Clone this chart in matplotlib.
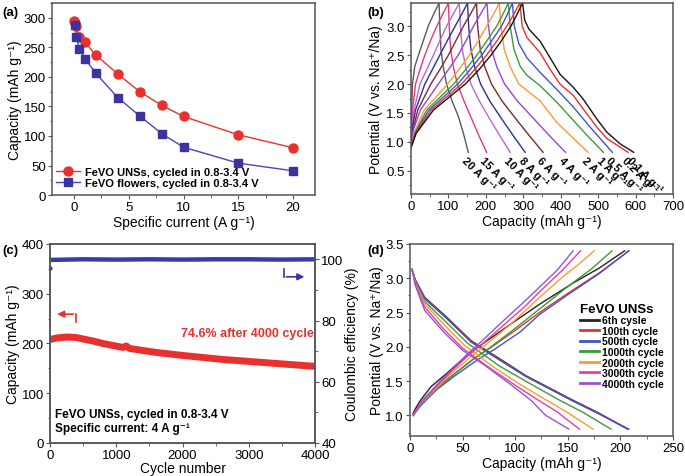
import matplotlib
matplotlib.use("Agg")
import matplotlib.pyplot as plt
from matplotlib.ticker import MultipleLocator

plt.rcParams['font.family'] = ['Liberation Sans', 'DejaVu Sans']
plt.rcParams['font.size'] = 9

# ── (a) rate capability ───────────────────────────────────────────────
rate_unss = [0.05, 0.1, 0.2, 0.5, 1, 2, 4, 6, 8, 10, 15, 20]
cap_unss = [294, 291, 287, 268, 259, 237, 205, 175, 152, 133, 102, 80]
rate_flow = [0.1, 0.2, 0.5, 1, 2, 4, 6, 8, 10, 15, 20]
cap_flow = [288, 268, 248, 231, 206, 165, 134, 104, 81, 54, 41]

# ── (b) charge / discharge profiles at different rates ───────────────
b_labels = ["20", "15", "10", "8", "6", "4", "2", "1", "0.5", "0.2", "0.1"]
b_colors = ["#5a5a5a", "#e8338a", "#bb66d6", "#2c3190", "#7a2b2b", "#9446d6",
            "#ff9a30", "#3a9c3a", "#3f55c8", "#e8312f", "#151515"]
b_chg_x = [
    [0, 1, 2, 4, 10, 20, 33, 46, 60, 75],
    [0, 2, 5, 12, 24, 37, 52, 69, 84, 100],
    [0, 3, 8, 24, 42, 60, 77, 95, 112, 129],
    [0, 4, 12, 37, 57, 77, 97, 118, 135, 151],
    [0, 5, 18, 53, 77, 100, 120, 140, 158, 175],
    [0, 6, 25, 73, 100, 126, 147, 167, 185, 203],
    [0, 8, 35, 98, 128, 156, 180, 202, 220, 236],
    [0, 10, 42, 114, 146, 176, 203, 229, 245, 260],
    [0, 11, 48, 125, 158, 189, 216, 242, 257, 271],
    [0, 12, 54, 135, 170, 202, 230, 256, 274, 291],
    [0, 14, 60, 145, 182, 214, 242, 267, 283, 298],
]
b_chg_v = [
    [0.95, 1.3, 1.6, 2.0, 2.3, 2.5, 2.75, 3.0, 3.2, 3.4],
    [0.95, 1.3, 1.6, 2.0, 2.25, 2.5, 2.75, 3.0, 3.2, 3.4],
    [0.95, 1.25, 1.55, 2.0, 2.25, 2.5, 2.75, 3.0, 3.2, 3.4],
    [0.94, 1.25, 1.55, 2.0, 2.25, 2.5, 2.75, 3.0, 3.2, 3.4],
    [0.94, 1.2, 1.55, 2.0, 2.25, 2.5, 2.75, 3.0, 3.2, 3.4],
    [0.93, 1.2, 1.55, 2.0, 2.25, 2.5, 2.75, 3.0, 3.2, 3.4],
    [0.92, 1.15, 1.55, 2.0, 2.25, 2.5, 2.75, 3.0, 3.2, 3.4],
    [0.92, 1.15, 1.55, 2.0, 2.25, 2.5, 2.75, 3.0, 3.2, 3.4],
    [0.91, 1.15, 1.55, 2.0, 2.25, 2.5, 2.75, 3.0, 3.2, 3.4],
    [0.90, 1.15, 1.55, 2.0, 2.25, 2.5, 2.75, 3.0, 3.2, 3.4],
    [0.90, 1.15, 1.55, 2.0, 2.25, 2.5, 2.75, 3.0, 3.2, 3.4],
]
b_dis_x = [
    [75, 77, 80, 86, 95, 110, 126, 140, 153],
    [100, 102, 106, 113, 124, 142, 162, 182, 202],
    [129, 132, 137, 146, 160, 183, 210, 238, 265],
    [151, 154, 160, 170, 186, 211, 242, 274, 305],
    [175, 178, 185, 197, 215, 244, 280, 317, 353],
    [203, 207, 215, 229, 250, 285, 328, 371, 413],
    [236, 240, 249, 265, 288, 345, 389, 434, 473],
    [260, 265, 275, 292, 310, 345, 389, 434, 478, 514],
    [271, 276, 288, 310, 345, 389, 434, 478, 538],
    [291, 297, 310, 345, 372, 398, 434, 460, 496, 523, 580],
    [298, 304, 315, 345, 371, 398, 434, 460, 496, 523, 558, 595],
]
b_dis_v = [
    [3.4, 3.0, 2.6, 2.3, 2.0, 1.7, 1.45, 1.15, 0.82],
    [3.4, 3.0, 2.6, 2.3, 2.0, 1.7, 1.4, 1.1, 0.82],
    [3.4, 3.0, 2.6, 2.3, 2.0, 1.7, 1.4, 1.1, 0.82],
    [3.4, 3.0, 2.6, 2.3, 2.0, 1.7, 1.4, 1.1, 0.82],
    [3.4, 3.0, 2.6, 2.3, 2.0, 1.7, 1.4, 1.1, 0.82],
    [3.4, 3.0, 2.6, 2.3, 2.0, 1.7, 1.4, 1.1, 0.82],
    [3.4, 3.0, 2.6, 2.3, 2.0, 1.71, 1.34, 1.06, 0.82],
    [3.4, 3.0, 2.6, 2.3, 2.15, 1.97, 1.69, 1.37, 1.06, 0.82],
    [3.4, 3.0, 2.7, 2.45, 2.2, 1.91, 1.60, 1.26, 0.82],
    [3.4, 3.0, 2.8, 2.54, 2.25, 2.0, 1.80, 1.57, 1.26, 1.06, 0.82],
    [3.4, 3.1, 2.95, 2.74, 2.46, 2.17, 1.94, 1.74, 1.40, 1.17, 0.97, 0.82],
]

# ── (c) long-term cycling ─────────────────────────────────────────────
cyc = [1, 100, 250, 400, 500, 650, 800, 950, 1100, 1150, 1200, 1400, 1600,
       1800, 2000, 2300, 2600, 2900, 3200, 3500, 3800, 4000]
cyc_cap = [208, 211, 213, 212, 209, 205, 200, 196, 192, 195, 190, 186, 182,
           179, 176, 172, 168, 165, 162, 159, 156, 154]
ce_cyc = [10, 500, 1000, 1500, 2000, 2500, 3000, 3500, 4000]
ce_val = [99.8, 100, 99.9, 100, 99.9, 100, 100, 99.9, 100]
ce_first_cyc = [1]
ce_first = [97]

# ── (d) profiles at selected cycles ──────────────────────────────────
d_labels = ["6th cysle", "100th cycle", "500th cycle", "1000th cycle",
            "2000th cycle", "3000th cycle", "4000th cycle"]
d_colors = ["#222222", "#e8312f", "#3f55c8", "#3a9c3a", "#ff9a30", "#e8409a", "#9a50d8"]
d_chg_x = [
    [3, 6, 10, 20, 34, 50, 65, 90, 123, 155, 180, 204],
    [3, 7, 12, 25, 40, 60, 75, 100, 123, 150, 180, 208],
    [3, 7, 12, 25, 42, 65, 80, 105, 123, 150, 180, 208],
    [3, 7, 12, 25, 42, 62, 77, 100, 123, 150, 172, 192],
    [3, 7, 12, 25, 40, 58, 72, 95, 123, 145, 160, 175],
    [3, 7, 12, 25, 40, 55, 70, 90, 110, 123, 145, 162],
    [3, 7, 12, 25, 40, 55, 68, 88, 108, 123, 140, 155],
]
d_chg_v = [
    [1.03, 1.12, 1.22, 1.42, 1.60, 1.82, 2.00, 2.27, 2.62, 2.93, 3.15, 3.4],
    [1.02, 1.10, 1.20, 1.40, 1.58, 1.82, 1.97, 2.24, 2.50, 2.78, 3.08, 3.4],
    [1.00, 1.08, 1.17, 1.37, 1.57, 1.82, 1.96, 2.22, 2.47, 2.76, 3.07, 3.4],
    [1.00, 1.08, 1.18, 1.38, 1.60, 1.84, 2.00, 2.27, 2.55, 2.88, 3.13, 3.4],
    [1.00, 1.09, 1.20, 1.40, 1.62, 1.86, 2.03, 2.32, 2.72, 3.02, 3.20, 3.4],
    [1.00, 1.10, 1.21, 1.42, 1.65, 1.87, 2.06, 2.33, 2.60, 2.80, 3.12, 3.4],
    [1.00, 1.10, 1.22, 1.44, 1.67, 1.90, 2.08, 2.37, 2.65, 2.87, 3.12, 3.4],
]
d_dis_x = [
    [2, 5, 14, 33, 58, 90, 110, 155, 180, 207],
    [2, 5, 14, 33, 58, 90, 110, 155, 180, 208],
    [2, 5, 14, 33, 58, 90, 110, 155, 180, 207],
    [2, 5, 14, 33, 55, 85, 110, 140, 165, 191],
    [2, 5, 14, 32, 52, 80, 105, 130, 150, 174],
    [2, 5, 14, 32, 50, 75, 100, 120, 140, 161],
    [2, 5, 14, 33, 50, 72, 95, 115, 129, 151],
]
d_dis_v = [
    [3.13, 2.98, 2.72, 2.46, 2.09, 1.78, 1.58, 1.22, 1.03, 0.8],
    [3.12, 2.97, 2.71, 2.45, 2.08, 1.77, 1.57, 1.21, 1.02, 0.8],
    [3.12, 2.97, 2.70, 2.44, 2.07, 1.76, 1.57, 1.21, 1.02, 0.8],
    [3.13, 2.95, 2.66, 2.38, 2.05, 1.72, 1.50, 1.24, 1.04, 0.8],
    [3.13, 2.94, 2.63, 2.33, 2.02, 1.70, 1.45, 1.22, 1.04, 0.8],
    [3.13, 2.92, 2.58, 2.26, 1.98, 1.70, 1.44, 1.24, 1.05, 0.8],
    [3.13, 2.90, 2.53, 2.20, 1.95, 1.72, 1.46, 1.22, 1.0, 0.8],
]

SPINE = "#555555"


def style(ax):
    for s in ax.spines.values():
        s.set_color(SPINE)
        s.set_linewidth(1.1)
    ax.tick_params(which="both", direction="out", labelsize=9.5, color=SPINE, pad=1.5)
    ax.tick_params(which="major", length=3)
    ax.tick_params(which="minor", length=1.8)


fig = plt.figure(figsize=(6.85, 4.77), dpi=100)

# (a)
ax = fig.add_axes([0.0759, 0.589, 0.384, 0.4025])
ax.plot(rate_unss, cap_unss, "-o", color="#e8312f", mfc="#e8312f", mec="#e8312f",
        ms=6.5, lw=1.0, label="FeVO UNSs, cycled in 0.8-3.4 V")
ax.plot(rate_flow, cap_flow, "-s", color="#4a45c0", mfc="#3a33a0", mec="#3a33a0",
        ms=5.5, lw=1.0, label="FeVO flowers, cycled in 0.8-3.4 V")
ax.set_xlim(-2, 22)
ax.set_ylim(0, 325)
ax.xaxis.set_major_locator(MultipleLocator(5))
ax.xaxis.set_minor_locator(MultipleLocator(2.5))
ax.yaxis.set_major_locator(MultipleLocator(50))
ax.yaxis.set_minor_locator(MultipleLocator(25))
ax.set_xlabel("Specific current (A g⁻¹)", fontsize=10, labelpad=1)
ax.set_ylabel("Capacity (mAh g⁻¹)", fontsize=10, labelpad=1)
ax.legend(loc="lower left", bbox_to_anchor=(-0.01, 0.0), frameon=False,
          prop={"weight": "bold", "size": 8}, handlelength=2.2,
          handletextpad=0.4, labelspacing=0.15, borderaxespad=0.2)
style(ax)

# (b)
ax = fig.add_axes([0.600, 0.5912, 0.3825, 0.4004])
for cx, cv, dx, dv, col, lab in zip(b_chg_x, b_chg_v, b_dis_x, b_dis_v, b_colors, b_labels):
    ax.plot(cx + dx, cv + dv, color=col, lw=1.0)
    ax.text(dx[-1] - 3, dv[-1] - 0.04, f"{lab} A g⁻¹", rotation=-45,
            rotation_mode="anchor", ha="left", va="top", fontsize=8,
            fontweight="bold")
ax.set_xlim(0, 700)
ax.set_ylim(0.1, 3.4)
ax.xaxis.set_major_locator(MultipleLocator(100))
ax.xaxis.set_minor_locator(MultipleLocator(50))
ax.set_yticks([0.5, 1.0, 1.5, 2.0, 2.5, 3.0])
ax.yaxis.set_minor_locator(MultipleLocator(0.25))
ax.set_xlabel("Capacity (mAh g⁻¹)", fontsize=10, labelpad=1)
ax.set_ylabel("Potential (V vs. Na⁺/Na)", fontsize=10, labelpad=2)
style(ax)

# (c)
ax = fig.add_axes([0.073, 0.0692, 0.387, 0.4172])
ax.plot(cyc, cyc_cap, color="#e8312f", lw=5, solid_capstyle="butt")
ax.set_xlim(0, 4000)
ax.set_ylim(0, 400)
ax.xaxis.set_major_locator(MultipleLocator(1000))
ax.xaxis.set_minor_locator(MultipleLocator(500))
ax.yaxis.set_major_locator(MultipleLocator(100))
ax.yaxis.set_minor_locator(MultipleLocator(50))
ax.set_xlabel("Cycle number", fontsize=10, labelpad=0)
ax.set_ylabel("Capacity (mAh g⁻¹)", fontsize=10, labelpad=1)
# red arrow pointing to the left axis
ax.plot([393, 393], [243, 259], color="#e8312f", lw=1.2)
ax.annotate("", xy=(66, 259), xytext=(393, 259),
            arrowprops=dict(arrowstyle="-|>", color="#e8312f", lw=1.2, mutation_scale=10))
ax.text(3980, 222, "74.6% after 4000 cycle", color="#e8312f", fontsize=9,
        fontweight="bold", ha="right", va="center")
ax.text(70, 58, "FeVO UNSs, cycled in 0.8-3.4 V", fontsize=8.5, fontweight="bold",
        va="center")
ax.text(70, 30, "Specific current: 4 A g⁻¹", fontsize=8.5, fontweight="bold",
        va="center")
# blue arrow pointing to the right axis
ax.plot([3525, 3525], [350, 334], color="#3a33a0", lw=1.2)
ax.annotate("", xy=(3880, 334), xytext=(3525, 334),
            arrowprops=dict(arrowstyle="-|>", color="#3a33a0", lw=1.2, mutation_scale=10))
style(ax)
ax2 = ax.twinx()
ax2.plot(ce_cyc, ce_val, color="#3a3ab0", lw=3.2, solid_capstyle="butt")
ax2.plot(ce_first_cyc, ce_first, "o", color="#3a3ab0", ms=2)
ax2.set_ylim(40, 105)
ax2.set_yticks([40, 60, 80, 100])
ax2.yaxis.set_minor_locator(MultipleLocator(10))
ax2.set_ylabel("Coulombic efficiency (%)", fontsize=10, labelpad=1)
style(ax2)

# (d)
ax = fig.add_axes([0.5985, 0.0839, 0.384, 0.4025])
for cx, cv, dx, dv, col, lab in zip(d_chg_x, d_chg_v, d_dis_x, d_dis_v, d_colors, d_labels):
    ax.plot(cx, cv, color=col, lw=1.0, label=lab)
    ax.plot(dx, dv, color=col, lw=1.0)
ax.set_xlim(0, 250)
ax.set_ylim(0.7, 3.5)
ax.xaxis.set_major_locator(MultipleLocator(50))
ax.xaxis.set_minor_locator(MultipleLocator(25))
ax.set_yticks([1.0, 1.5, 2.0, 2.5, 3.0, 3.5])
ax.yaxis.set_minor_locator(MultipleLocator(0.25))
ax.set_xlabel("Capacity (mAh g⁻¹)", fontsize=10, labelpad=1)
ax.set_ylabel("Potential (V vs. Na⁺/Na)", fontsize=10, labelpad=1)
leg = ax.legend(loc="center right", bbox_to_anchor=(1.0, 0.47), frameon=False,
                title="FeVO UNSs", prop={"weight": "bold", "size": 7.5},
                title_fontproperties={"weight": "bold", "size": 9.5},
                handlelength=1.8, handletextpad=0.3, labelspacing=0.05)
leg._legend_box.align = "left"
for line in leg.get_lines():
    line.set_linewidth(2)
style(ax)

fig.text(0.003, 0.985, "(a)", fontsize=9.5, fontweight="bold", va="top")
fig.text(0.536, 0.985, "(b)", fontsize=9.5, fontweight="bold", va="top")
fig.text(0.003, 0.487, "(c)", fontsize=9.5, fontweight="bold", va="top")
fig.text(0.536, 0.487, "(d)", fontsize=9.5, fontweight="bold", va="top")

fig.savefig("out.png", dpi=100)
